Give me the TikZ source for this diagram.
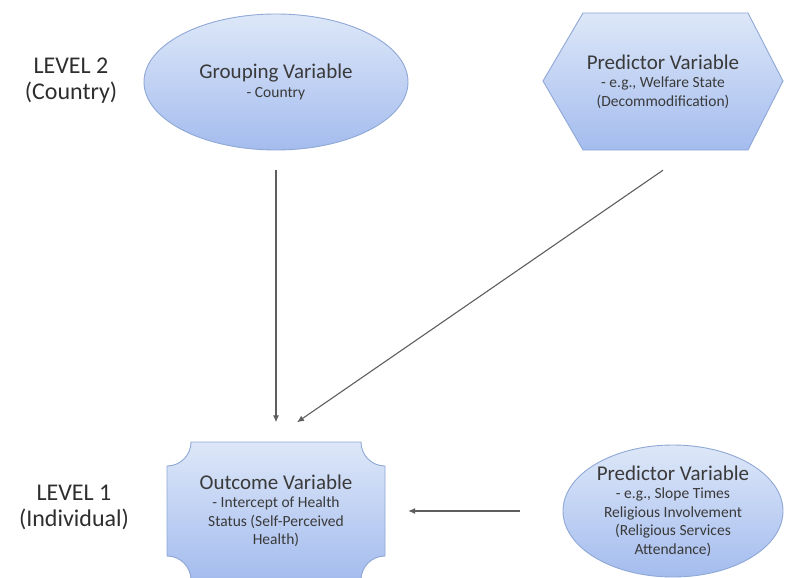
\documentclass[tikz,border=0pt]{standalone}
\usepackage{fontspec}
\setmainfont{Carlito}
\usetikzlibrary{shapes.geometric,arrows.meta,calc}
\definecolor{boxtop}{HTML}{DDE7F8}
\definecolor{boxbot}{HTML}{A4BCEE}
\definecolor{boxline}{HTML}{8FA8D6}
\definecolor{inktext}{HTML}{3A3A3A}
\definecolor{arrowgray}{HTML}{5E5E5E}
\newcommand\vartitle{\fontsize{21}{23}\selectfont}
\newcommand\levelfont{\fontsize{24}{26}\selectfont}

\begin{document}
\begin{tikzpicture}[x=1pt,y=-1pt,
  varfill/.style={draw=boxline, line width=0.9pt, top color=boxtop, bottom color=boxbot},
  vartext/.style={text=inktext, align=center, inner sep=0pt,
    font=\fontsize{15.5}{18.5}\selectfont},
  leveltext/.style={text=black!82, align=center, font=\levelfont},
  conn/.style={draw=arrowgray, line width=1.1pt,
    -{Latex[length=7pt,width=6pt]}}
]
\useasboundingbox (0,0) rectangle (785,578);

% level labels
\node[leveltext] (lvtwo) at (71,81) {LEVEL 2\\(Country)};
\node[leveltext] (lvone) at (74,507) {LEVEL 1\\(Individual)};

% level 2: grouping variable (ellipse)
\node[ellipse, varfill, vartext, minimum width=264pt, minimum height=136pt]
  (group) at (276,82) {{\vartitle Grouping Variable}\\- Country};

% level 2: predictor (hexagon)
\path[varfill] (543,81) -- (583,13) -- (748,13) -- (783,81)
  -- (748,150) -- (583,150) -- cycle;
\node[vartext, minimum width=240pt, minimum height=137pt] (hex) at (663,81.5)
  {{\vartitle Predictor Variable}\\- e.g., Welfare State\\(Decommodification)};

% level 1: outcome (plaque with concave corners)
\path[varfill] (191,442) -- (361,442) arc[start angle=180, end angle=90, radius=24]
  -- (385,556) arc[start angle=270, end angle=180, radius=24]
  -- (191,580) arc[start angle=0, end angle=-90, radius=24]
  -- (167,466) arc[start angle=90, end angle=0, radius=24] -- cycle;
\node[vartext, minimum width=218pt, minimum height=137pt] (outcome) at (276,511)
  {{\vartitle Outcome Variable}\\- Intercept of Health\\Status (Self-Perceived\\Health)};

% level 1: predictor (ellipse)
\node[ellipse, varfill, vartext, minimum width=220pt, minimum height=132pt]
  (pred) at (673,511)
  {{\vartitle Predictor Variable}\\- e.g., Slope Times\\Religious Involvement\\(Religious Services\\Attendance)};

% connectors
\draw[conn] ($(group.south)+(0,20)$) -- ($(outcome.north)+(0,-20)$);
\draw[conn] ($(hex.south)+(0,20)$) -- ($(outcome.north)+(21,-20)$);
\draw[conn] ($(pred.west)+(-43,0)$) -- ($(outcome.east)+(23,0)$);
\end{tikzpicture}
\end{document}
